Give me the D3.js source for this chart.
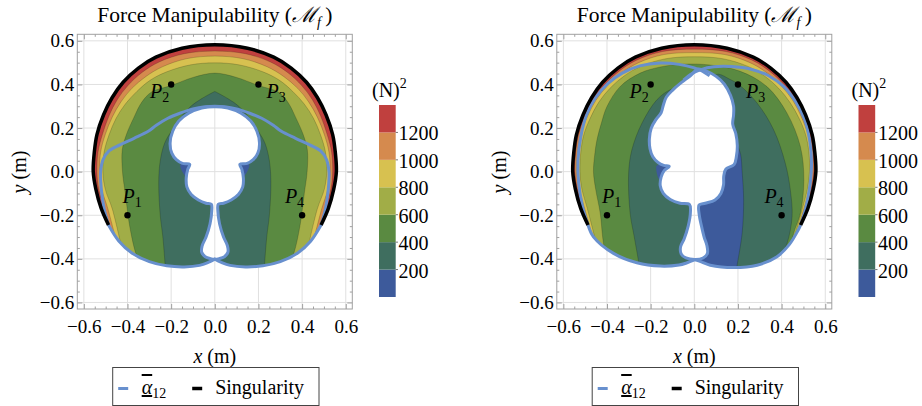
<!DOCTYPE html>
<html>
<head>
<meta charset="utf-8">
<script src="https://cdn.jsdelivr.net/npm/d3@7"></script>
<style>
  body { margin: 0; background: #fff; }
  svg { display: block; }
  text { font-family: "Liberation Serif", "DejaVu Serif", serif; fill: #000; }
</style>
</head>
<body>
<script>
// axis / legend data
const ticks = [-0.6, -0.4, -0.2, 0, 0.2, 0.4, 0.6]
const levels = [0, 200, 400, 600, 800, 1000, 1200, 1400]
const barTicks = [200, 400, 600, 800, 1000, 1200]
const bandColors = ["#3d5a9b", "#3f6e5f", "#5a8a41", "#a1ad47", "#d7c150", "#d58a4e", "#c0403e"]
const pointNames = ["1", "2", "3", "4"]
const pointX = [-0.4, -0.2, 0.2, 0.4]
const pointY = [-0.2, 0.4, 0.4, -0.2]

// singularity curve (same in both plots), metres
const outer = [[-0.487,-0.245],[-0.52,-0.17],[-0.545,-0.08],[-0.557,0.0],[-0.552,0.09],[-0.54,0.17],[-0.51,0.26],[-0.47,0.34],[-0.42,0.41],[-0.35,0.475],[-0.27,0.525],[-0.15,0.566],[0,0.582],[0.15,0.566],[0.27,0.525],[0.35,0.475],[0.42,0.41],[0.47,0.34],[0.51,0.26],[0.54,0.17],[0.552,0.09],[0.557,0.0],[0.545,-0.08],[0.52,-0.17],[0.487,-0.245]]

// ---- left plot
const lowerLeftA = [[-0.487,-0.245],[-0.44,-0.318],[-0.38,-0.373],[-0.3,-0.413],[-0.22,-0.432],[-0.14,-0.437],[-0.07,-0.43],[-0.03,-0.416],[0,-0.401]]
const lowerRightA = [[0,-0.401],[0.03,-0.416],[0.07,-0.43],[0.14,-0.437],[0.22,-0.432],[0.3,-0.413],[0.38,-0.373],[0.44,-0.318],[0.487,-0.245]]
const alphaTopA = [[-0.487,-0.245],[-0.507,-0.17],[-0.52,-0.08],[-0.523,0.0],[-0.512,0.055],[-0.485,0.095],[-0.435,0.123],[-0.37,0.153],[-0.305,0.185],[-0.268,0.213],[-0.215,0.245],[-0.16,0.268],[-0.1,0.288],[-0.045,0.298],[0,0.30],[0.045,0.298],[0.1,0.288],[0.16,0.268],[0.215,0.245],[0.268,0.213],[0.305,0.185],[0.37,0.153],[0.435,0.123],[0.485,0.095],[0.512,0.055],[0.523,0.0],[0.52,-0.08],[0.507,-0.17],[0.487,-0.245]]
const holeA = [[0,0.298],[-0.06,0.292],[-0.12,0.268],[-0.165,0.232],[-0.193,0.185],[-0.205,0.13],[-0.197,0.085],[-0.176,0.055],[-0.148,0.038],[-0.115,0.034],[-0.124,0.01],[-0.131,-0.03],[-0.128,-0.07],[-0.108,-0.105],[-0.075,-0.13],[-0.04,-0.145],[-0.016,-0.15],[-0.014,-0.18],[-0.022,-0.24],[-0.04,-0.3],[-0.058,-0.34],[-0.06,-0.37],[-0.044,-0.39],[-0.02,-0.399],[0,-0.402],[0.02,-0.399],[0.044,-0.39],[0.06,-0.37],[0.058,-0.34],[0.04,-0.3],[0.022,-0.24],[0.014,-0.18],[0.016,-0.15],[0.04,-0.145],[0.075,-0.13],[0.108,-0.105],[0.128,-0.07],[0.131,-0.03],[0.124,0.01],[0.115,0.034],[0.148,0.038],[0.176,0.055],[0.197,0.085],[0.205,0.13],[0.193,0.185],[0.165,0.232],[0.12,0.268],[0.06,0.292]]
const lowPatchA = [[[-0.158,0.032],[-0.11,0.036],[-0.125,-0.03]], [[0.158,0.032],[0.11,0.036],[0.125,-0.03]]]
const cA400 = [[[-0.226,-0.45],[-0.238,-0.3],[-0.25,-0.2],[-0.257,-0.05],[-0.25,0.05],[-0.23,0.13],[-0.2,0.184],[-0.155,0.25],[-0.112,0.298],[-0.06,0.335],[0,0.368]],
               [[0,0.368],[0.06,0.335],[0.112,0.298],[0.155,0.25],[0.2,0.184],[0.23,0.13],[0.25,0.05],[0.257,-0.05],[0.25,-0.2],[0.238,-0.3],[0.226,-0.45]]]
const cA600 = [[-0.335,-0.43],[-0.36,-0.38],[-0.39,-0.25],[-0.41,-0.1],[-0.423,0.0],[-0.424,0.1],[-0.405,0.17],[-0.37,0.25],[-0.335,0.318],[-0.29,0.365],[-0.2,0.395],[-0.1,0.432],[0,0.452],[0.1,0.432],[0.2,0.395],[0.29,0.365],[0.335,0.318],[0.37,0.25],[0.405,0.17],[0.424,0.1],[0.423,0.0],[0.41,-0.1],[0.39,-0.25],[0.36,-0.38],[0.335,-0.43]]
const cA800 = [[-0.43,-0.335],[-0.47,-0.17],[-0.502,-0.08],[-0.513,0.0],[-0.507,0.09],[-0.484,0.17],[-0.452,0.245],[-0.41,0.31],[-0.357,0.368],[-0.295,0.42],[-0.22,0.458],[-0.11,0.49],[0,0.499],[0.11,0.49],[0.22,0.458],[0.295,0.42],[0.357,0.368],[0.41,0.31],[0.452,0.245],[0.484,0.17],[0.507,0.09],[0.513,0.0],[0.502,-0.08],[0.47,-0.17],[0.43,-0.335]]
const cA1000 = [[-0.455,-0.305],[-0.49,-0.17],[-0.518,-0.08],[-0.528,0.0],[-0.523,0.09],[-0.502,0.17],[-0.47,0.25],[-0.43,0.32],[-0.38,0.382],[-0.315,0.437],[-0.24,0.481],[-0.13,0.518],[0,0.53],[0.13,0.518],[0.24,0.481],[0.315,0.437],[0.38,0.382],[0.43,0.32],[0.47,0.25],[0.502,0.17],[0.523,0.09],[0.528,0.0],[0.518,-0.08],[0.49,-0.17],[0.455,-0.305]]
const cA1200 = [[-0.47,-0.285],[-0.505,-0.17],[-0.532,-0.08],[-0.54,0.0],[-0.535,0.09],[-0.515,0.17],[-0.485,0.255],[-0.447,0.33],[-0.398,0.395],[-0.332,0.456],[-0.255,0.503],[-0.14,0.541],[0,0.553],[0.14,0.541],[0.255,0.503],[0.332,0.456],[0.398,0.395],[0.447,0.33],[0.485,0.255],[0.515,0.17],[0.535,0.09],[0.54,0.0],[0.532,-0.08],[0.505,-0.17],[0.47,-0.285]]

// ---- right plot
const lowerLeftB = [[-0.487,-0.245],[-0.462,-0.299],[-0.37,-0.375],[-0.263,-0.418],[-0.156,-0.433],[-0.07,-0.428],[-0.033,-0.418],[0.005,-0.404]]
const lowerRightB = [[0.005,-0.404],[0.035,-0.415],[0.073,-0.429],[0.18,-0.44],[0.288,-0.429],[0.379,-0.39],[0.435,-0.335],[0.475,-0.27],[0.487,-0.245]]
const alphaLeftB = [[-0.487,-0.245],[-0.512,-0.16],[-0.53,-0.05],[-0.533,0.05],[-0.52,0.16],[-0.494,0.26],[-0.452,0.34],[-0.395,0.405],[-0.33,0.452],[-0.25,0.485],[-0.156,0.498],[-0.07,0.492],[0,0.476],[0.03,0.464],[0.07,0.44]]
const alphaRightB = [[0.487,-0.245],[0.51,-0.17],[0.53,-0.06],[0.537,0.04],[0.529,0.14],[0.505,0.24],[0.465,0.32],[0.41,0.39],[0.34,0.44],[0.26,0.47],[0.17,0.482],[0.09,0.481],[0.03,0.468],[-0.01,0.45],[-0.05,0.42]]
const holeB = [[0.015,0.47],[-0.018,0.44],[-0.06,0.408],[-0.098,0.375],[-0.128,0.342],[-0.142,0.305],[-0.152,0.27],[-0.175,0.24],[-0.197,0.2],[-0.206,0.15],[-0.203,0.105],[-0.19,0.068],[-0.166,0.042],[-0.14,0.029],[-0.115,0.024],[-0.138,0.005],[-0.152,-0.025],[-0.156,-0.065],[-0.142,-0.1],[-0.11,-0.128],[-0.065,-0.145],[-0.022,-0.151],[-0.018,-0.19],[-0.028,-0.25],[-0.047,-0.31],[-0.063,-0.345],[-0.06,-0.378],[-0.038,-0.396],[0.005,-0.403],[0.04,-0.396],[0.06,-0.375],[0.058,-0.34],[0.045,-0.3],[0.033,-0.25],[0.023,-0.2],[0.022,-0.153],[0.05,-0.145],[0.095,-0.13],[0.122,-0.1],[0.134,-0.06],[0.135,-0.02],[0.145,0.012],[0.182,0.032],[0.193,0.07],[0.197,0.12],[0.19,0.175],[0.176,0.218],[0.18,0.26],[0.18,0.3],[0.166,0.35],[0.137,0.402],[0.1,0.437],[0.058,0.46]]
const lowPatchB = [[[-0.172,0.028],[-0.125,0.022],[-0.16,-0.035]]]
const cB200 = [[0.19,0.14],[0.212,0.08],[0.219,0.0],[0.226,-0.13],[0.219,-0.283],[0.196,-0.43],[0.19,-0.47]]
const cB200inside = [[0.0,-0.47],[0.0,-0.1],[0.1,0.05],[0.17,0.12]]   // closes the patch through the hole
const cB400 = [[[-0.25,-0.45],[-0.255,-0.414],[-0.275,-0.3],[-0.294,-0.191],[-0.301,-0.008],[-0.286,0.1],[-0.24,0.222],[-0.171,0.33],[-0.11,0.376],[-0.03,0.40]],
               [[0.06,0.43],[0.11,0.447],[0.16,0.425],[0.203,0.4],[0.288,0.314],[0.364,0.191],[0.417,0.038],[0.44,-0.084],[0.448,-0.207],[0.425,-0.329],[0.394,-0.398],[0.385,-0.45]]]
const cB600 = [[-0.41,-0.37],[-0.42,-0.3],[-0.431,-0.191],[-0.452,-0.08],[-0.462,0.0],[-0.456,0.08],[-0.446,0.146],[-0.425,0.225],[-0.4,0.299],[-0.339,0.391],[-0.248,0.452],[-0.156,0.48],[-0.05,0.493],[0.073,0.489],[0.211,0.46],[0.333,0.39],[0.425,0.268],[0.486,0.115],[0.502,-0.038],[0.486,-0.191],[0.455,-0.283],[0.44,-0.36]]
const cB800 = [[-0.455,-0.305],[-0.49,-0.17],[-0.515,-0.08],[-0.524,0.0],[-0.52,0.09],[-0.506,0.17],[-0.477,0.245],[-0.438,0.318],[-0.386,0.383],[-0.32,0.44],[-0.243,0.484],[-0.13,0.518],[0,0.527],[0.13,0.518],[0.243,0.484],[0.32,0.44],[0.386,0.383],[0.438,0.318],[0.48,0.245],[0.51,0.17],[0.525,0.09],[0.528,0.0],[0.518,-0.08],[0.495,-0.17],[0.46,-0.3]]
const cB1000 = [[-0.47,-0.285],[-0.502,-0.17],[-0.527,-0.08],[-0.539,0.0],[-0.535,0.09],[-0.521,0.17],[-0.491,0.25],[-0.451,0.327],[-0.4,0.392],[-0.333,0.453],[-0.255,0.5],[-0.14,0.537],[0,0.546],[0.14,0.537],[0.255,0.5],[0.333,0.453],[0.4,0.392],[0.451,0.327],[0.491,0.25],[0.521,0.17],[0.535,0.09],[0.539,0.0],[0.527,-0.08],[0.502,-0.17],[0.47,-0.285]]
const cB1200 = [[-0.478,-0.275],[-0.51,-0.17],[-0.535,-0.08],[-0.547,0.0],[-0.543,0.09],[-0.53,0.17],[-0.5,0.255],[-0.46,0.333],[-0.41,0.4],[-0.342,0.463],[-0.263,0.512],[-0.145,0.551],[0,0.562],[0.145,0.551],[0.263,0.512],[0.342,0.463],[0.41,0.4],[0.46,0.333],[0.5,0.255],[0.53,0.17],[0.543,0.09],[0.547,0.0],[0.535,-0.08],[0.51,-0.17],[0.478,-0.275]]

const colors = {
    alpha: "#6890ce",
    grid: "#e0e0e0",
    frame: "#a0a0a0",
    contour: "rgba(0,0,0,0.22)",
    black: "#000"
}

const panels = [
    { id: "A", ox: 0, lowerL: lowerLeftA, lowerR: lowerRightA, hole: holeA, lowPatches: lowPatchA,
      alpha: [alphaTopA.concat(lowerRightA.slice().reverse(), lowerLeftA.slice().reverse())],
      high: [cA400, [cA600], [cA800], [cA1000], [cA1200]] },
    { id: "B", ox: 479.5, lowerL: lowerLeftB, lowerR: lowerRightB, hole: holeB, lowPatches: lowPatchB,
      lowRegion: [cB200, cB200inside],
      alpha: [alphaLeftB, alphaRightB, lowerLeftB, lowerRightB],
      high: [cB400, [cB600], [cB800], [cB1000], [cB1200]] }
]

const svg = d3.select("body").append("svg").attr("width", 922).attr("height", 406)
const defs = svg.append("defs")
const fmt = d => (d < 0 ? "\u2212" : "") + Math.abs(d).toFixed(1)

panels.forEach(p => {
    const x = d3.scaleLinear([-0.63, 0.63], [77.3 + p.ox, 352.3 + p.ox])
    const y = d3.scaleLinear([-0.63, 0.63], [309, 34.3])
    const smooth = d3.line(d => x(d[0]), d => y(d[1])).curve(d3.curveCatmullRom.alpha(0.5))
    const closed = d3.line(d => x(d[0]), d => y(d[1])).curve(d3.curveCatmullRomClosed.alpha(0.5))
    const join = segs => segs.map((s, i) => i ? smooth(s).replace(/^M/, "L") : smooth(s)).join("")
    const lin = pts => pts.map(c => `L${x(c[0])},${y(c[1])}`).join("")
    const box = lin([[0.8, -0.8], [0.8, 0.8], [-0.8, 0.8], [-0.8, -0.8]])

    const g = svg.append("g")

    // grid
    g.append("g").selectAll("line.gx").data(ticks).join("line")
        .attr("x1", d => x(d)).attr("x2", d => x(d)).attr("y1", y(-0.63)).attr("y2", y(0.63))
        .attr("stroke", colors.grid).attr("stroke-width", 1)
    g.append("g").selectAll("line.gy").data(ticks).join("line")
        .attr("y1", d => y(d)).attr("y2", d => y(d)).attr("x1", x(-0.63)).attr("x2", x(0.63))
        .attr("stroke", colors.grid).attr("stroke-width", 1)

    // region = inside singularity, above lower alpha curve, minus the hole
    const domainD = join([outer, p.lowerR.slice().reverse(), p.lowerL.slice().reverse()]) + "Z" + closed(p.hole)
    defs.append("clipPath").attr("id", "dom" + p.id)
        .append("path").attr("d", domainD).attr("clip-rule", "evenodd")

    const bands = g.append("g").attr("clip-path", `url(#dom${p.id})`)
    bands.append("rect").attr("x", x(-0.63)).attr("y", y(0.63))
        .attr("width", x(0.63) - x(-0.63)).attr("height", y(-0.63) - y(0.63))
        .attr("fill", bandColors[1])
    bands.selectAll("path.low").data(p.lowPatches).join("path")
        .attr("d", d => closed(d)).attr("fill", bandColors[0])
    if (p.lowRegion) {
        bands.append("path").attr("d", smooth(p.lowRegion[0]) + lin(p.lowRegion[1]) + "Z")
            .attr("fill", bandColors[0])
        bands.append("path").attr("d", smooth(p.lowRegion[0]))
            .attr("fill", "none").attr("stroke", colors.contour).attr("stroke-width", 0.8)
    }
    p.high.forEach((segs, i) => {
        bands.append("path").attr("d", join(segs) + box + "Z").attr("fill", bandColors[i + 2])
        segs.forEach(s => bands.append("path").attr("d", smooth(s))
            .attr("fill", "none").attr("stroke", colors.contour).attr("stroke-width", 0.8))
    })

    // alpha_12 curves
    g.append("path").attr("d", closed(p.hole))
        .attr("fill", "none").attr("stroke", colors.alpha).attr("stroke-width", 3)
    p.alpha.forEach(a => g.append("path").attr("d", smooth(a))
        .attr("fill", "none").attr("stroke", colors.alpha).attr("stroke-width", 3))

    // singularity
    g.append("path").attr("d", smooth(outer))
        .attr("fill", "none").attr("stroke", colors.black).attr("stroke-width", 3.5)

    // frame and ticks
    const minor = d3.range(-12, 13).filter(i => i % 4 !== 0).map(i => i * 0.05)
    const axes = [
        [d3.axisBottom, `translate(0,${y(-0.63)})`, true],
        [d3.axisTop, `translate(0,${y(0.63)})`, false],
        [d3.axisLeft, `translate(${x(-0.63)},0)`, true],
        [d3.axisRight, `translate(${x(0.63)},0)`, false]
    ]
    axes.forEach(([ax, tr, labels], k) => {
        const sc = k < 2 ? x : y
        const major = g.append("g").attr("transform", tr)
            .call(ax(sc).tickValues(ticks).tickSizeInner(-5).tickSizeOuter(0)
                .tickPadding(k < 2 ? 10.5 : 3).tickFormat(labels ? fmt : ""))
        const mn = g.append("g").attr("transform", tr)
            .call(ax(sc).tickValues(minor).tickSizeInner(-2.5).tickSizeOuter(0).tickFormat(""))
        ;[major, mn].forEach(a => {
            a.select(".domain").remove()
            a.selectAll("line").attr("stroke", colors.frame)
        })
        major.selectAll("text").attr("font-size", 19).attr("font-family", null).attr("fill", "#000")
    })
    g.append("rect").attr("x", x(-0.63)).attr("y", y(0.63))
        .attr("width", x(0.63) - x(-0.63)).attr("height", y(-0.63) - y(0.63))
        .attr("fill", "none").attr("stroke", colors.frame).attr("stroke-width", 1)

    // points P1..P4
    const lab = [[-5, -12.5, "start"], [-2, 13.5, "end"], [8, 13.5, "start"], [2, -12.5, "end"]]
    pointNames.forEach((n, i) => {
        g.append("circle").attr("cx", x(pointX[i])).attr("cy", y(pointY[i])).attr("r", 3.2).attr("fill", "#000")
        const t = g.append("text").attr("x", x(pointX[i]) + lab[i][0]).attr("y", y(pointY[i]) + lab[i][1])
            .attr("text-anchor", lab[i][2]).attr("font-size", 20)
        t.append("tspan").attr("font-style", "italic").text("P")
        t.append("tspan").attr("font-size", 14).attr("dy", 4).text(n)
    })

    // title and axis labels
    const cx = (x(-0.63) + x(0.63)) / 2
    const title = g.append("text").attr("x", cx).attr("y", 21.5).attr("text-anchor", "middle").attr("font-size", 21.5)
    title.append("tspan").text("Force Manipulability (")
    title.append("tspan").attr("font-style", "italic").text("\u2133")
    title.append("tspan").attr("font-style", "italic").attr("font-size", 14).attr("dy", 5).text("f")
    title.append("tspan").attr("dy", -5).text("\u2009)")

    const xl = g.append("text").attr("x", cx).attr("y", 363).attr("text-anchor", "middle").attr("font-size", 20)
    xl.append("tspan").attr("font-style", "italic").text("x")
    xl.append("tspan").text(" (m)")
    const yl = g.append("text").attr("transform", `translate(${26 + p.ox},172) rotate(-90)`)
        .attr("text-anchor", "middle").attr("font-size", 20)
    yl.append("tspan").attr("font-style", "italic").text("y")
    yl.append("tspan").text(" (m)")

    // colour bar
    const yc = d3.scaleLinear([0, 1400], [297, 105])
    const bx = 379 + p.ox
    g.append("g").selectAll("rect").data(bandColors).join("rect")
        .attr("x", bx).attr("width", 16.7)
        .attr("y", (d, i) => yc(levels[i + 1])).attr("height", (d, i) => yc(levels[i]) - yc(levels[i + 1]))
        .attr("fill", d => d)
    g.append("g").selectAll("line").data(barTicks).join("line")
        .attr("x1", bx + 16.7).attr("x2", bx + 19).attr("y1", d => yc(d)).attr("y2", d => yc(d))
        .attr("stroke", "#555").attr("stroke-width", 0.8)
    g.append("g").selectAll("text").data(barTicks).join("text")
        .attr("x", bx + 19.5).attr("y", d => yc(d) + 8).attr("font-size", 20).text(d => d)
    const unit = g.append("text").attr("x", 372 + p.ox).attr("y", 97).attr("font-size", 20)
    unit.append("tspan").text("(N)")
    unit.append("tspan").attr("font-size", 14).attr("dy", -9).text("2")

    // legend
    const lx = 112.7 + p.ox
    g.append("rect").attr("x", lx).attr("y", 367.5).attr("width", 206.3).attr("height", 38)
        .attr("fill", "#fff").attr("stroke", "#444").attr("stroke-width", 1)
    g.append("line").attr("x1", lx + 5.5).attr("x2", lx + 15.5).attr("y1", 388.5).attr("y2", 388.5)
        .attr("stroke", colors.alpha).attr("stroke-width", 3)
    const at = g.append("text").attr("x", lx + 29).attr("y", 394).attr("font-size", 20)
    at.append("tspan").attr("font-style", "italic").style("text-decoration", "overline underline").text("\u03b1")
    at.append("tspan").attr("font-size", 14).attr("dy", 4).text("12")
    g.append("line").attr("x1", lx + 79.5).attr("x2", lx + 89.5).attr("y1", 388.5).attr("y2", 388.5)
        .attr("stroke", colors.black).attr("stroke-width", 3.5)
    g.append("text").attr("x", lx + 102.5).attr("y", 394).attr("font-size", 20).text("Singularity")
})
</script>
</body>
</html>
